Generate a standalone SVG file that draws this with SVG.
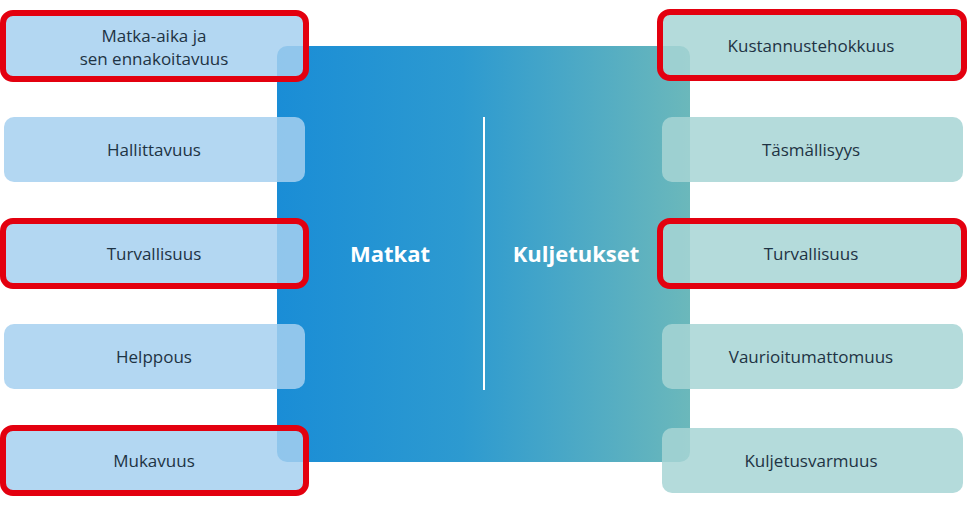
<svg xmlns="http://www.w3.org/2000/svg" width="969" height="507" viewBox="0 0 969 507">
<defs>
<linearGradient id="g" x1="0" x2="1" y1="0" y2="0">
<stop offset="0" stop-color="#1a8dd6"/><stop offset="0.45" stop-color="#2d9ad0"/><stop offset="1" stop-color="#6bb8bb"/>
</linearGradient>
<style>
.l{fill:#a6d0f0;fill-opacity:0.85}
.r{fill:#a7d5d5;fill-opacity:0.85}
.hl{fill:none;stroke:#e3000f;stroke-width:6}
text{font-family:"Open Sans","Liberation Sans",sans-serif;font-size:17px;fill:#1e3344;text-anchor:middle}
.big{font-size:22px;font-weight:bold;fill:#fff}
</style>
</defs>
<rect width="969" height="507" fill="#fff"/>
<g id="center">
<rect x="277" y="46" width="413" height="416" rx="10" fill="url(#g)"/>
<line x1="484" y1="117" x2="484" y2="390" stroke="#fff" stroke-width="2"/>
<text class="big" x="390" y="262">Matkat</text>
<text class="big" x="576" y="262">Kuljetukset</text>
</g>
<g id="l1"><rect class="l" x="4" y="14" width="301" height="64" rx="10"/><rect class="hl" x="3" y="13" width="303" height="66" rx="10"/><text x="154" y="42">Matka-aika ja</text><text x="154" y="65">sen ennakoitavuus</text></g>
<g id="l2"><rect class="l" x="4" y="117" width="301" height="65" rx="10"/><text x="154" y="156">Hallittavuus</text></g>
<g id="l3"><rect class="l" x="4" y="221" width="301" height="65" rx="10"/><rect class="hl" x="3" y="221" width="303" height="65" rx="10"/><text x="154" y="260">Turvallisuus</text></g>
<g id="l4"><rect class="l" x="4" y="324" width="301" height="65" rx="10"/><text x="154" y="363">Helppous</text></g>
<g id="l5"><rect class="l" x="4" y="428" width="301" height="65" rx="10"/><rect class="hl" x="3" y="428" width="303" height="65" rx="10"/><text x="154" y="467">Mukavuus</text></g>
<g id="r1"><rect class="r" x="662" y="14" width="301" height="64" rx="10"/><rect class="hl" x="660" y="12" width="304" height="66" rx="10"/><text x="811" y="52">Kustannustehokkuus</text></g>
<g id="r2"><rect class="r" x="662" y="117" width="301" height="65" rx="10"/><text x="811" y="156">Täsmällisyys</text></g>
<g id="r3"><rect class="r" x="662" y="221" width="301" height="65" rx="10"/><rect class="hl" x="660" y="221" width="304" height="65" rx="10"/><text x="811" y="260">Turvallisuus</text></g>
<g id="r4"><rect class="r" x="662" y="324" width="301" height="65" rx="10"/><text x="811" y="363">Vaurioitumattomuus</text></g>
<g id="r5"><rect class="r" x="662" y="428" width="301" height="65" rx="10"/><text x="811" y="467">Kuljetusvarmuus</text></g>
</svg>
